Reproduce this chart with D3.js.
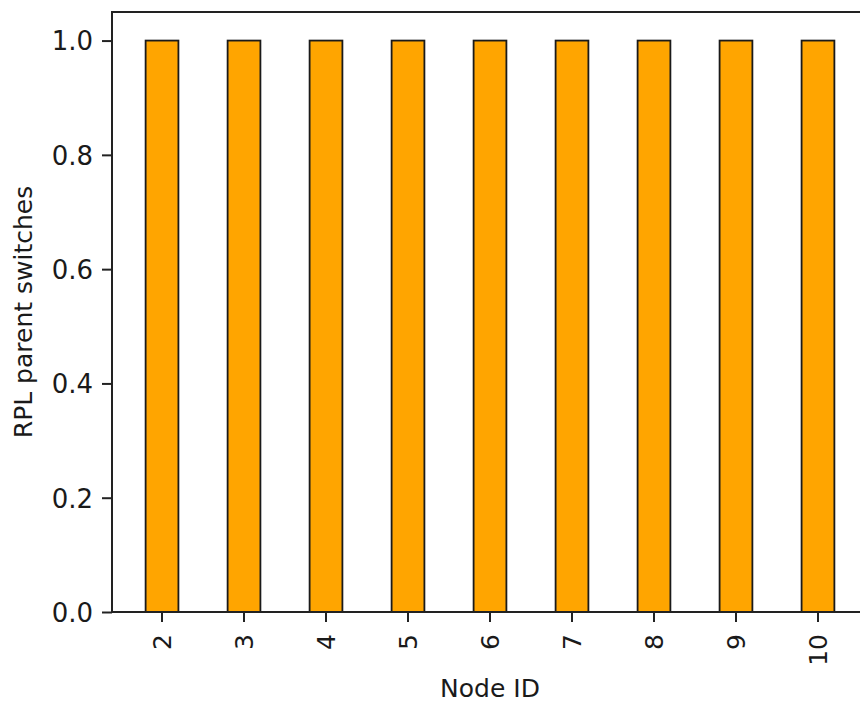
<!DOCTYPE html>
<html>
<head>
<meta charset="utf-8">
<script src="https://cdn.jsdelivr.net/npm/d3@7"></script>
<style>
  html, body { margin: 0; padding: 0; background: #fff; }
  svg { display: block; }
  text { font-family: "DejaVu Sans", sans-serif; fill: #1a1a1a; }
</style>
</head>
<body>
<svg id="chart" width="860" height="702"></svg>
<script>
const nodeIds = ["2", "3", "4", "5", "6", "7", "8", "9", "10"];
const parentSwitches = [1, 1, 1, 1, 1, 1, 1, 1, 1];
const yTicks = [0.0, 0.2, 0.4, 0.6, 0.8, 1.0];
const xLabel = "Node ID";
const yLabel = "RPL parent switches";

(function () {
const svg = d3.select("#chart");
const mLeft = 112, mRight = 868, mTop = 12, mBottom = 612;

const x = d3.scaleBand().domain(nodeIds).range([mLeft, mRight])
  .paddingInner(0.6).paddingOuter(0.41);
const y = d3.scaleLinear().domain([0, 1.05]).range([mBottom, mTop]);

const data = nodeIds.map((id, i) => ({ id, v: parentSwitches[i] }));

svg.append("g").selectAll("rect").data(data).enter().append("rect")
  .attr("x", d => x(d.id))
  .attr("y", d => y(d.v))
  .attr("width", x.bandwidth())
  .attr("height", d => y(0) - y(d.v))
  .attr("fill", "#FFA500")
  .attr("stroke", "#1a1a1a")
  .attr("stroke-width", 1.8);

// frame
svg.append("rect")
  .attr("x", mLeft).attr("y", mTop)
  .attr("width", mRight - mLeft).attr("height", mBottom - mTop)
  .attr("fill", "none").attr("stroke", "#222").attr("stroke-width", 2);

const xAxis = svg.append("g").attr("transform", `translate(0,${mBottom})`)
  .call(d3.axisBottom(x).tickSize(10).tickPadding(12));
xAxis.select(".domain").remove();
xAxis.selectAll("line").attr("stroke", "#222").attr("stroke-width", 2);
xAxis.selectAll("text")
  .attr("font-size", 25)
  .attr("text-anchor", "end")
  .attr("transform", "rotate(-90)")
  .attr("x", -22).attr("y", 0).attr("dy", "0.36em");

const yAxis = svg.append("g").attr("transform", `translate(${mLeft},0)`)
  .call(d3.axisLeft(y).tickValues(yTicks).tickFormat(d3.format(".1f")).tickSize(10).tickPadding(9));
yAxis.select(".domain").remove();
yAxis.selectAll("line").attr("stroke", "#222").attr("stroke-width", 2);
yAxis.selectAll("text").attr("font-size", 26).attr("dy", "0.36em");

svg.append("text")
  .attr("x", (mLeft + mRight) / 2).attr("y", 697)
  .attr("text-anchor", "middle").attr("font-size", 25)
  .text(xLabel);

svg.append("text")
  .attr("transform", `translate(32,${(mTop + mBottom) / 2}) rotate(-90)`)
  .attr("text-anchor", "middle").attr("font-size", 25)
  .text(yLabel);
})();
</script>
</body>
</html>
